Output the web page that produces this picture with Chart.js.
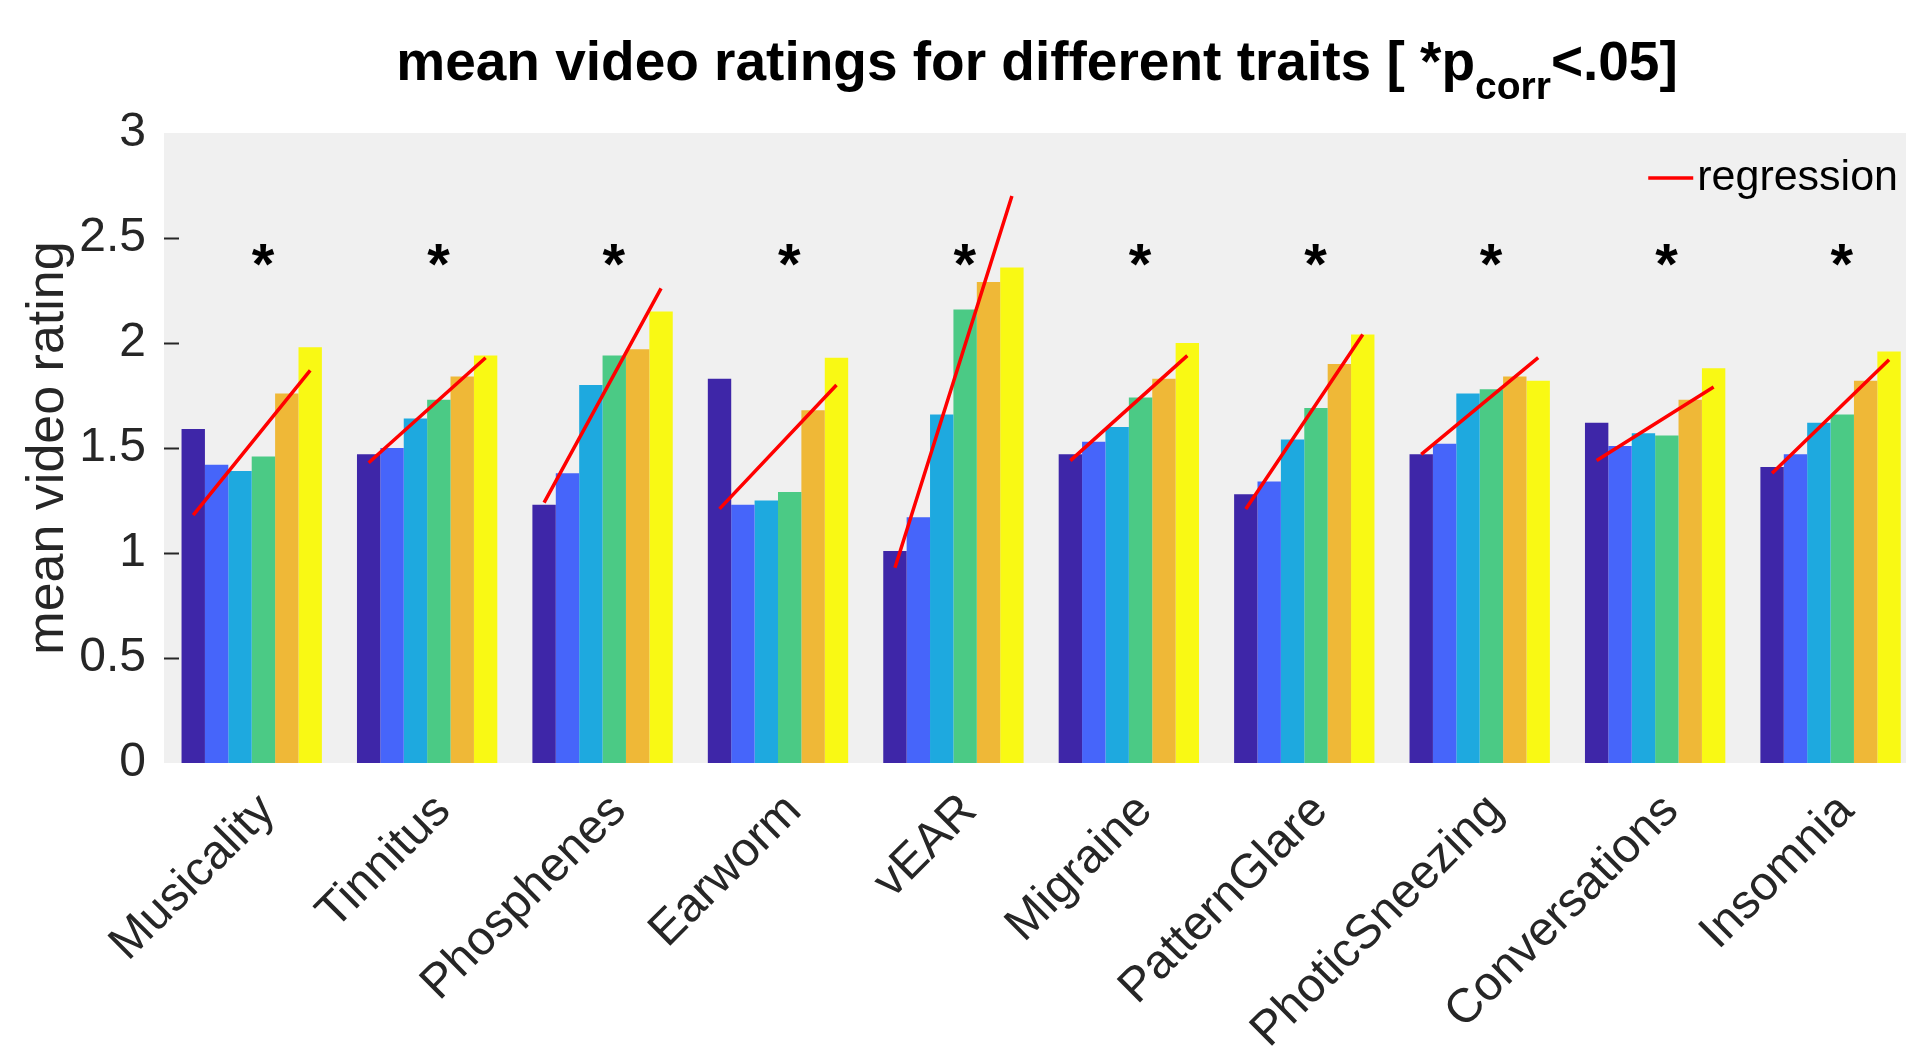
<!DOCTYPE html>
<html>
<head>
<meta charset="utf-8">
<title>mean video ratings</title>
<script src="https://cdn.jsdelivr.net/npm/chart.js@4.4.0/dist/chart.umd.min.js"></script>
<style>
  html, body { margin: 0; padding: 0; background: #fff; overflow: hidden; }
  canvas { display: block; }
</style>
</head>
<body>
<canvas id="graficoTracos" width="1906" height="1051"></canvas>
<script>
const traits = ['Musicality', 'Tinnitus', 'Phosphenes', 'Earworm', 'vEAR',
  'Migraine', 'PatternGlare', 'PhoticSneezing', 'Conversations', 'Insomnia'];

// one array per rating group (6 bars in each trait)
const group1 = [1.59, 1.47, 1.23, 1.83, 1.01, 1.47, 1.28, 1.47, 1.62, 1.41];
const group2 = [1.42, 1.50, 1.38, 1.23, 1.17, 1.53, 1.34, 1.52, 1.51, 1.47];
const group3 = [1.39, 1.64, 1.80, 1.25, 1.66, 1.60, 1.54, 1.76, 1.57, 1.62];
const group4 = [1.46, 1.73, 1.94, 1.29, 2.16, 1.74, 1.69, 1.78, 1.56, 1.66];
const group5 = [1.76, 1.84, 1.97, 1.68, 2.29, 1.83, 1.90, 1.84, 1.73, 1.82];
const group6 = [1.98, 1.94, 2.15, 1.93, 2.36, 2.00, 2.04, 1.82, 1.88, 1.96];

// regression line, value at first bar and at last bar
const regStart = [1.18, 1.43, 1.24, 1.21, 0.93, 1.44, 1.21, 1.47, 1.44, 1.38];
const regEnd   = [1.87, 1.93, 2.26, 1.80, 2.70, 1.94, 2.04, 1.93, 1.79, 1.92];

const significant = [true, true, true, true, true, true, true, true, true, true];
const starLevel = 2.42;

const yTicks = [0, 0.5, 1, 1.5, 2, 2.5, 3];

const barColors = ['#3e26a8', '#4665fa', '#1ea9df', '#4bca85', '#efb837', '#f9f914'];
const groups = [group1, group2, group3, group4, group5, group6];

const categoryPct = 0.8;
const barStep = categoryPct / groups.length;

const fonte = '"Liberation Sans", Arial, Helvetica, sans-serif';
const corTexto = '#262626';

const barDatasets = groups.map((g, k) => ({
  type: 'bar',
  label: 'group ' + (k + 1),
  data: g.map((v, i) => ({ x: i, y: v })),
  backgroundColor: barColors[k],
  borderWidth: 0,
  barPercentage: 1,
  categoryPercentage: categoryPct,
  order: 1
}));

const regPoints = [];
traits.forEach((t, i) => {
  regPoints.push({ x: i - 2.5 * barStep, y: regStart[i] });
  regPoints.push({ x: i + 2.5 * barStep, y: regEnd[i] });
  regPoints.push({ x: i + 0.5, y: null });
});

const regDataset = {
  type: 'line',
  label: 'regression',
  data: regPoints,
  borderColor: '#ff0000',
  borderWidth: 3.5,
  pointRadius: 0,
  spanGaps: false,
  tension: 0,
  order: 0
};

const fundoPlugin = {
  id: 'fundo',
  beforeDraw(chart) {
    const { ctx, chartArea } = chart;
    ctx.save();
    ctx.fillStyle = '#f0f0f0';
    ctx.fillRect(chartArea.left, chartArea.top, chartArea.right - chartArea.left, chartArea.bottom - chartArea.top);
    // inward tick marks on y axis
    const y = chart.scales.y;
    ctx.strokeStyle = corTexto;
    ctx.lineWidth = 2;
    yTicks.forEach(v => {
      if (v <= 0 || v >= 3) return;
      const py = Math.round(y.getPixelForValue(v)) + 0.5;
      ctx.beginPath();
      ctx.moveTo(chartArea.left, py);
      ctx.lineTo(chartArea.left + 15, py);
      ctx.stroke();
    });
    ctx.restore();
  }
};

const extrasPlugin = {
  id: 'extras',
  afterDraw(chart) {
    const { ctx, chartArea } = chart;
    const x = chart.scales.x;
    const y = chart.scales.y;
    ctx.save();

    // asterisks
    ctx.fillStyle = '#000';
    ctx.font = 'bold 58px ' + fonte;
    ctx.textAlign = 'left';
    ctx.textBaseline = 'alphabetic';
    const m = ctx.measureText('*');
    const meio = (m.actualBoundingBoxAscent - m.actualBoundingBoxDescent) / 2;
    significant.forEach((s, i) => {
      if (!s) return;
      ctx.fillText('*', x.getPixelForValue(i), y.getPixelForValue(starLevel) + meio);
    });

    // legend
    ctx.font = '43px ' + fonte;
    ctx.textBaseline = 'middle';
    const legTexto = regDataset.label;
    const wl = ctx.measureText(legTexto).width;
    const tx = chartArea.right - 8 - wl;
    const ly = chartArea.top + 45;
    ctx.strokeStyle = regDataset.borderColor;
    ctx.lineWidth = 3.5;
    ctx.beginPath();
    ctx.moveTo(tx - 49, ly);
    ctx.lineTo(tx - 4, ly);
    ctx.stroke();
    ctx.fillStyle = '#000';
    ctx.fillText(legTexto, tx, ly);

    // title with subscript
    const p1 = 'mean video ratings for different traits [ *p';
    const sub = 'corr';
    const p2 = '<.05]';
    ctx.textBaseline = 'alphabetic';
    ctx.textAlign = 'left';
    ctx.font = 'bold 55px ' + fonte;
    const w1 = ctx.measureText(p1).width;
    const w3 = ctx.measureText(p2).width;
    ctx.font = 'bold 39px ' + fonte;
    const w2 = ctx.measureText(sub).width;
    let tx0 = (chartArea.left + chartArea.right) / 2 + 2 - (w1 + w2 + w3) / 2;
    const base = 80;
    ctx.font = 'bold 55px ' + fonte;
    ctx.fillText(p1, tx0, base);
    tx0 += w1;
    ctx.font = 'bold 39px ' + fonte;
    ctx.fillText(sub, tx0, base + 19);
    tx0 += w2;
    ctx.font = 'bold 55px ' + fonte;
    ctx.fillText(p2, tx0, base);

    ctx.restore();
  }
};

const grafico = new Chart(document.getElementById('graficoTracos'), {
  data: {
    datasets: [regDataset, ...barDatasets]
  },
  options: {
    responsive: false,
    devicePixelRatio: 1,
    animation: false,
    layout: { padding: { top: 133, left: 0, right: 0, bottom: 0 } },
    plugins: {
      legend: { display: false },
      title: { display: false },
      tooltip: { enabled: false }
    },
    scales: {
      x: {
        type: 'linear',
        min: -0.5,
        max: 9.43,
        offset: false,
        grid: { display: false, drawTicks: false },
        border: { display: false },
        afterBuildTicks: scale => {
          scale.ticks = traits.map((t, i) => ({ value: i }));
        },
        afterFit: scale => { scale.height = 288; },
        ticks: {
          autoSkip: false,
          maxRotation: 45,
          minRotation: 45,
          labelOffset: 16,
          padding: 20,
          color: corTexto,
          font: { family: fonte, size: 48 },
          callback: v => traits[v]
        }
      },
      y: {
        min: 0,
        max: 3,
        grid: { display: false, drawTicks: false },
        border: { display: false },
        afterBuildTicks: scale => {
          scale.ticks = yTicks.map(v => ({ value: v }));
        },
        afterFit: scale => { scale.width = 164; },
        ticks: {
          padding: 18,
          color: corTexto,
          font: { family: fonte, size: 48 },
          callback: v => String(v)
        },
        title: {
          display: true,
          text: 'mean video rating',
          color: corTexto,
          font: { family: fonte, size: 52 },
          padding: { top: 17, bottom: 0 }
        }
      }
    }
  },
  plugins: [fundoPlugin, extrasPlugin]
});
</script>
</body>
</html>
